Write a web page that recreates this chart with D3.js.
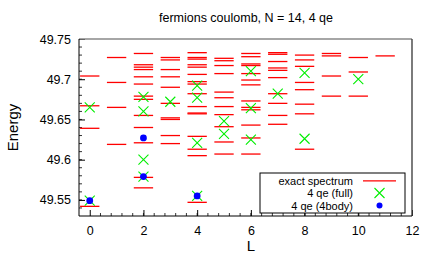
<!DOCTYPE html>
<html>
<head>
<meta charset="utf-8">
<script src="https://cdn.jsdelivr.net/npm/d3@7"></script>
<style>
  body { margin: 0; background: #fff; }
  svg text { font-family: "Liberation Sans", Arial, sans-serif; fill: #000; }
</style>
</head>
<body>
<div id="chart"></div>
<script>
// exact spectrum: energy levels for each L
var levelsL = [0, 1, 2, 3, 4, 5, 6, 7, 8, 9, 10, 11];
var spectrum = [
    [49.542, 49.639, 49.667, 49.704],
    [49.619, 49.665, 49.696, 49.727],
    [49.565, 49.578, 49.621, 49.640, 49.655, 49.675, 49.679, 49.694, 49.703, 49.712, 49.715, 49.718, 49.732],
    [49.620, 49.630, 49.650, 49.652, 49.670, 49.690, 49.703, 49.712, 49.724, 49.727],
    [49.547, 49.605, 49.613, 49.629, 49.657, 49.658, 49.666, 49.682, 49.694, 49.697, 49.706, 49.715, 49.718, 49.725, 49.727, 49.733],
    [49.607, 49.622, 49.641, 49.656, 49.666, 49.677, 49.684, 49.707, 49.717, 49.723, 49.726],
    [49.607, 49.627, 49.643, 49.662, 49.665, 49.673, 49.693, 49.699, 49.707, 49.717, 49.719, 49.728, 49.732],
    [49.644, 49.655, 49.670, 49.682, 49.702, 49.711, 49.714, 49.722, 49.731, 49.733],
    [49.613, 49.657, 49.669, 49.687, 49.696, 49.716, 49.724, 49.730],
    [49.679, 49.704, 49.729, 49.732],
    [49.679, 49.709, 49.727],
    [49.729]
];

// 4 qe (full)
var fullL = [0, 0, 2, 2, 2, 2, 3, 4, 4, 4, 4, 5, 5, 6, 6, 6, 7, 8, 8, 10];
var fullE = [49.549, 49.665, 49.579, 49.600, 49.660, 49.678, 49.672, 49.555, 49.621, 49.677, 49.692,
             49.632, 49.648, 49.625, 49.664, 49.710, 49.682, 49.626, 49.708, 49.700];

// 4 qe (4body)
var bodyL = [0, 2, 2, 4];
var bodyE = [49.549, 49.579, 49.627, 49.555];

var yTicks = [49.55, 49.6, 49.65, 49.7, 49.75];
var xTicks = [0, 2, 4, 6, 8, 10, 12];

var margin = {top: 39, right: 24, bottom: 42, left: 79},
    width = 436 - margin.left - margin.right,
    height = 258 - margin.top - margin.bottom;

var svg = d3.select("#chart")
    .append("svg")
    .attr("width", 436)
    .attr("height", 258);

var g = svg.append("g")
    .attr("transform", "translate(" + margin.left + "," + margin.top + ")");

var x = d3.scaleLinear().domain([-0.4, 12]).range([0, width]);
var y = d3.scaleLinear().domain([49.53, 49.75]).range([height, 0]);

// minor ticks (inside)
g.selectAll(".ymin")
    .data(d3.range(49.54, 49.745, 0.01))
    .enter().append("line")
    .attr("x1", 0).attr("x2", 3)
    .attr("y1", function (d) { return y(d); })
    .attr("y2", function (d) { return y(d); })
    .attr("stroke", "#000").attr("stroke-width", 0.8);

g.selectAll(".xmin")
    .data(d3.range(0.4, 12, 0.4))
    .enter().append("line")
    .attr("x1", function (d) { return x(d); })
    .attr("x2", function (d) { return x(d); })
    .attr("y1", height).attr("y2", height - 3)
    .attr("stroke", "#000").attr("stroke-width", 0.8);

// Y axis
var yAxis = g.append("g")
    .call(d3.axisLeft(y).tickValues(yTicks).tickSizeInner(-6).tickSizeOuter(0).tickPadding(8)
        .tickFormat(function (d) { return d3.format(".2f")(d).replace(/0$/, ""); }));
yAxis.select(".domain").remove();
yAxis.selectAll("text").style("font-size", "12.5px").attr("font-family", "Liberation Sans, Arial, sans-serif");

// X axis
var xAxis = g.append("g")
    .attr("transform", "translate(0," + height + ")")
    .call(d3.axisBottom(x).tickValues(xTicks).tickSizeInner(-6).tickSizeOuter(0).tickPadding(10));
xAxis.select(".domain").remove();
xAxis.selectAll("text").style("font-size", "12.5px").attr("font-family", "Liberation Sans, Arial, sans-serif");

// exact spectrum lines
var segs = [];
spectrum.forEach(function (lev, i) {
    lev.forEach(function (e) { segs.push({L: levelsL[i], E: e}); });
});
g.selectAll(".lev")
    .data(segs)
    .enter().append("line")
    .attr("x1", function (d) { return x(d.L - 0.36); })
    .attr("x2", function (d) { return x(d.L + 0.36); })
    .attr("y1", function (d) { return y(d.E); })
    .attr("y2", function (d) { return y(d.E); })
    .attr("stroke", "#ff0000")
    .attr("stroke-width", 1.3);

// green crosses
var cross = function (sel, s) {
    sel.append("path")
        .attr("d", "M" + (-s) + "," + (-s) + "L" + s + "," + s + "M" + (-s) + "," + s + "L" + s + "," + (-s))
        .attr("stroke", "#00ee00")
        .attr("stroke-width", 1.1)
        .attr("fill", "none");
};
g.selectAll(".full")
    .data(fullL)
    .enter().append("g")
    .attr("transform", function (d, i) { return "translate(" + x(d) + "," + y(fullE[i]) + ")"; })
    .call(cross, 5);

// blue dots
g.selectAll(".body")
    .data(bodyL)
    .enter().append("circle")
    .attr("cx", function (d) { return x(d); })
    .attr("cy", function (d, i) { return y(bodyE[i]); })
    .attr("r", 3.4)
    .attr("fill", "#0000ff");

// frame
g.append("line").attr("x1", 0).attr("x2", width).attr("y1", 0).attr("y2", 0)
    .attr("stroke", "#888").attr("stroke-width", 1.6);
g.append("line").attr("x1", width).attr("x2", width).attr("y1", 0).attr("y2", height)
    .attr("stroke", "#444").attr("stroke-width", 1.4);
g.append("line").attr("x1", 0).attr("x2", 0).attr("y1", 0).attr("y2", height)
    .attr("stroke", "#000").attr("stroke-width", 1);
g.append("line").attr("x1", 0).attr("x2", width).attr("y1", height).attr("y2", height)
    .attr("stroke", "#000").attr("stroke-width", 1);

// legend
var key = g.append("g")
    .attr("transform", "translate(" + (260 - margin.left) + "," + (173 - margin.top) + ")");
key.append("rect")
    .attr("width", 145).attr("height", 40)
    .attr("fill", "#fff")
    .attr("stroke", "#000").attr("stroke-width", 1);
var keyLabels = ["exact spectrum", "4 qe (full)", "4 qe (4body)"];
key.selectAll("text")
    .data(keyLabels)
    .enter().append("text")
    .attr("x", 93)
    .attr("y", function (d, i) { return 11.5 + i * 12.6; })
    .attr("text-anchor", "end")
    .style("font-size", "11px")
    .text(function (d) { return d; });
key.append("line")
    .attr("x1", 103).attr("x2", 136).attr("y1", 7.8).attr("y2", 7.8)
    .attr("stroke", "#ff0000").attr("stroke-width", 1.3);
key.append("g").attr("transform", "translate(119.5,20)").call(cross, 5);
key.append("circle").attr("cx", 119.5).attr("cy", 32.5).attr("r", 3).attr("fill", "#0000ff");

// title & axis labels
svg.append("text")
    .attr("x", 246).attr("y", 22)
    .attr("text-anchor", "middle")
    .style("font-size", "12.5px")
    .text("fermions coulomb, N = 14, 4 qe");

svg.append("text")
    .attr("transform", "translate(18," + (margin.top + height / 2) + ") rotate(-90)")
    .attr("text-anchor", "middle")
    .style("font-size", "15px")
    .text("Energy");

svg.append("text")
    .attr("x", x(6) + margin.left).attr("y", 251)
    .attr("text-anchor", "middle")
    .style("font-size", "15px")
    .text("L");
</script>
</body>
</html>
